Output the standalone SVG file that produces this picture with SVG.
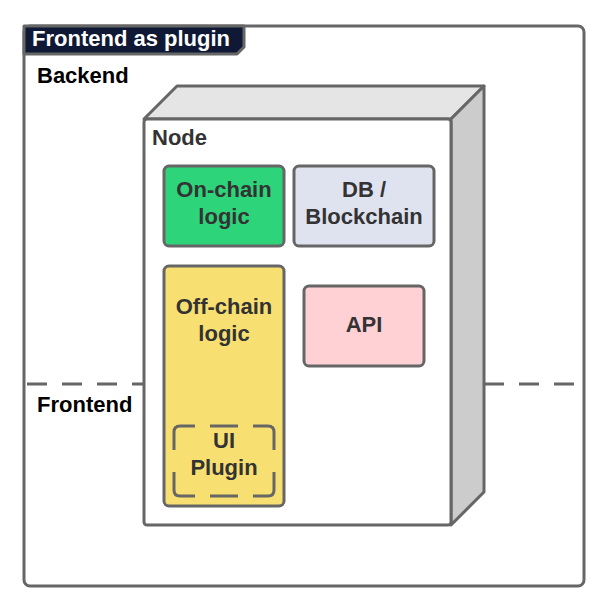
<svg xmlns="http://www.w3.org/2000/svg" width="610" height="612" viewBox="0 0 610 612">
<style>
text{font-family:"Liberation Sans",Arial,sans-serif;font-weight:bold;font-size:22px}
.lbl{fill:#000}
.in{fill:#333;text-anchor:middle}
.box{stroke:#666;stroke-width:3}
.sep{stroke:#666;stroke-width:3;stroke-dasharray:20 15;fill:none}
.dash{fill:none;stroke:#666;stroke-width:3}
</style>
<rect width="610" height="612" fill="#fff"/>
<g id="frame">
<rect x="24" y="26" width="560" height="560" rx="6" fill="#fff" stroke="#666" stroke-width="3"/>
<path d="M24,26 H244 V47 L237,54 H24 Z" fill="#0f1834" stroke="#666" stroke-width="3" stroke-linejoin="round"/>
<text x="32" y="46" fill="#fff">Frontend as plugin</text>
<text class="lbl" x="37" y="83">Backend</text>
<text class="lbl" x="37" y="412">Frontend</text>
</g>
<g id="connectors">
<line class="sep" x1="27" y1="384" x2="144" y2="384"/>
<line class="sep" x1="484" y1="384" x2="582" y2="384"/>
</g>
<g id="node">
<path d="M144,119 L177,86 H484 L451,119 Z" fill="#e5e5e5" stroke="#666" stroke-width="3" stroke-linejoin="round"/>
<path d="M451,119 L484,86 V492 L451,525 Z" fill="#cccccc" stroke="#666" stroke-width="3" stroke-linejoin="round"/>
<rect x="144" y="119" width="307" height="406" rx="3" fill="#fff" stroke="#666" stroke-width="3"/>
<text x="152" y="145" fill="#333">Node</text>
</g>
<g id="onchain">
<rect class="box" x="164" y="166" width="120" height="80" rx="5" fill="#2ed47a"/>
<text class="in" x="224" y="197">On-chain</text>
<text class="in" x="224" y="224">logic</text>
</g>
<g id="db">
<rect class="box" x="294" y="166" width="140" height="80" rx="5" fill="#dfe3ef"/>
<text class="in" x="364" y="197">DB /</text>
<text class="in" x="364" y="224">Blockchain</text>
</g>
<g id="offchain">
<rect class="box" x="164" y="266" width="120" height="240" rx="5" fill="#f7e071"/>
<text class="in" x="224" y="314">Off-chain</text>
<text class="in" x="224" y="341">logic</text>
</g>
<g id="api">
<rect class="box" x="304" y="286" width="120" height="80" rx="5" fill="#ffd0d4"/>
<text class="in" x="364" y="332">API</text>
</g>
<g id="uiplugin">
<path class="dash" d="M174,450 V432 Q174,426 180,426 H195 M210,426 H238 M253,426 H268 Q274,426 274,432 V450 M274,472 V490 Q274,496 268,496 H253 M238,496 H210 M195,496 H180 Q174,496 174,490 V472"/>
<text class="in" x="224" y="448">UI</text>
<text class="in" x="224" y="475">Plugin</text>
</g>
</svg>
